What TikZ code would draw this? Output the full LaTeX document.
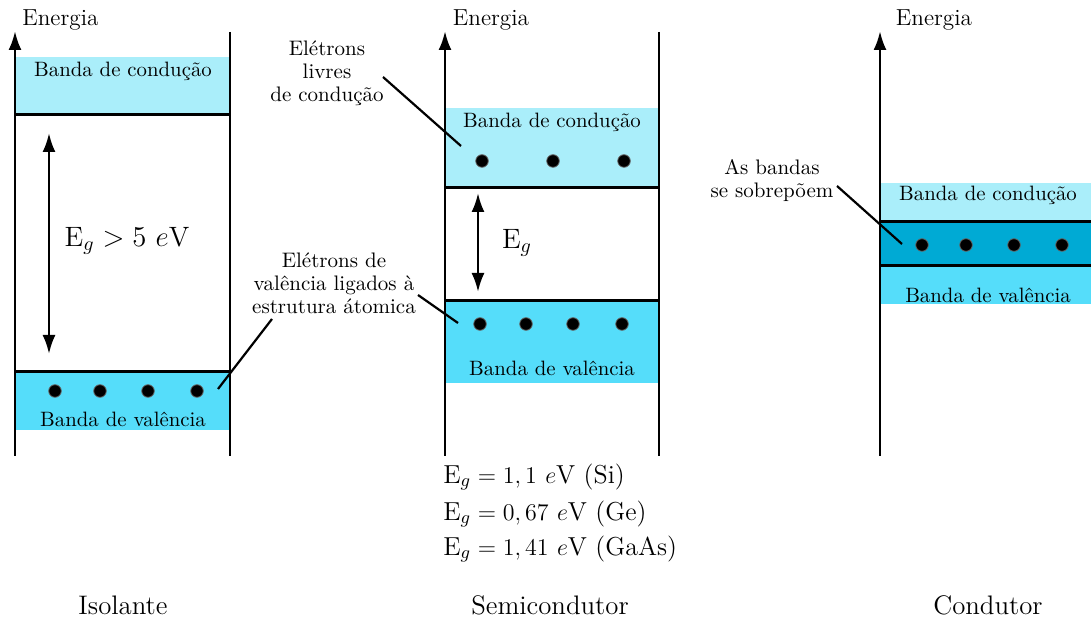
\documentclass[tikz,border=0pt]{standalone}
\usetikzlibrary{arrows.meta}
\definecolor{cond}{RGB}{170,238,250}
\definecolor{val}{RGB}{85,221,250}
\definecolor{over}{RGB}{0,170,212}
\begin{document}
\begin{tikzpicture}[x=0.5pt,y=-0.5pt,
 axis/.style={line width=1.4pt,-{Latex[length=9.5pt,width=6.5pt]}},
 wall/.style={line width=1.4pt},
 edge/.style={line width=1.5pt},
 gap/.style={line width=1.3pt,{Latex[length=9.5pt,width=6.5pt]}-{Latex[length=9.5pt,width=6.5pt]}},
 lbl/.style={font=\fontsize{10.4}{12}\selectfont, inner sep=0pt},
 enlbl/.style={font=\fontsize{11.6}{13}\selectfont, inner sep=0pt},
 note/.style={font=\fontsize{10.5}{11.5}\selectfont, align=center, inner sep=0pt},
 lead/.style={line width=1.1pt},
 edot/.style={circle, fill=black, draw=black!60, line width=0.4pt, inner sep=0pt, minimum size=6.3pt},
 title/.style={font=\fontsize{13.4}{16}\selectfont, inner sep=0pt, anchor=base},
 eqn/.style={font=\fontsize{13}{15}\selectfont, inner sep=0pt, anchor=base west},
 big/.style={font=\fontsize{14}{16}\selectfont, inner sep=0pt}
]
\useasboundingbox (0,0) rectangle (1091,619);

% ---------------- Isolante ----------------
\fill[cond] (15,57) rectangle (230,115);
\fill[val] (15,372) rectangle (230,430);
\draw[edge] (15,115) -- (230,115);
\draw[edge] (15,372) -- (230,372);
\draw[axis] (15,456) -- (15,31);
\draw[wall] (230,32) -- (230,456);
\node[enlbl, anchor=west] (iEn) at (22,20) {Energia};
\node[lbl] (iCond) at (123,71) {Banda de condução};
\node[lbl] (iVal) at (123,419) {Banda de valência};
\foreach \x/\n in {55/1,100/2,148/3,197/4} \node[edot] (id\n) at (\x,391) {};
\coordinate (iTop) at (49,133);
\coordinate (iBot) at (49,354);
\draw[gap] (iTop) -- (iBot);
\node[big] (iEg) at (127,241) {E$_g > 5$ $e$V};
\node[title] (iTitle) at (123,614) {Isolante};

% ---------------- Semicondutor ----------------
\fill[cond] (445,108) rectangle (659,188);
\fill[val] (445,301) rectangle (659,383);
\draw[edge] (445,188) -- (659,188);
\draw[edge] (445,301) -- (659,301);
\draw[axis] (445,456) -- (445,31);
\draw[wall] (659,32) -- (659,456);
\node[enlbl] (sEn) at (491,20) {Energia};
\node[lbl] (sCond) at (552,122) {Banda de condução};
\node[lbl] (sVal) at (552,368) {Banda de valência};
\foreach \x/\n in {482/1,553/2,624/3} \node[edot] (sc\n) at (\x,161) {};
\foreach \x/\n in {480/1,526/2,573/3,622/4} \node[edot] (sv\n) at (\x,324) {};
\coordinate (sTop) at (478,193);
\coordinate (sBot) at (478,292);
\draw[gap] (sTop) -- (sBot);
\node[big] (sEg) at (517,243) {E$_g$};
\node[note] (nLivres) at (327,73) {Elétrons\\livres\\de condução};
\coordinate (l1a) at (383,77);
\coordinate (l1b) at (461,146);
\draw[lead] (l1a) -- (l1b);
\node[note] (nLig) at (334,283) {Elétrons de\\valência ligados à\\estrutura átomica};
\coordinate (l2a) at (418,295);
\coordinate (l2b) at (458,323);
\draw[lead] (l2a) -- (l2b);
\coordinate (l3a) at (272,319);
\coordinate (l3b) at (218,389);
\draw[lead] (l3a) -- (l3b);
\node[eqn] (eq1) at (443,483) {E$_g = 1,1$ $e$V (Si)};
\node[eqn] (eq2) at (443,520) {E$_g = 0,67$ $e$V (Ge)};
\node[eqn] (eq3) at (443,555) {E$_g = 1,41$ $e$V (GaAs)};
\node[title] (sTitle) at (550,614) {Semicondutor};

% ---------------- Condutor ----------------
\fill[cond] (880,183) rectangle (1091,222);
\fill[over] (880,222) rectangle (1091,266);
\fill[val] (880,266) rectangle (1091,304);
\draw[edge] (880,222) -- (1091,222);
\draw[edge] (880,266) -- (1091,266);
\draw[axis] (880,456) -- (880,31);
\node[enlbl] (cEn) at (934,20) {Energia};
\node[lbl] (cCond) at (988,195) {Banda de condução};
\node[lbl] (cVal) at (988,295) {Banda de valência};
\foreach \x/\n in {922/1,966/2,1014/3,1062/4} \node[edot] (cd\n) at (\x,245) {};
\node[note] (nSobre) at (772,181) {As bandas\\se sobrepõem};
\coordinate (l4a) at (837,186);
\coordinate (l4b) at (902,244);
\draw[lead] (l4a) -- (l4b);
\node[title] (cTitle) at (988,614) {Condutor};
\end{tikzpicture}
\end{document}
